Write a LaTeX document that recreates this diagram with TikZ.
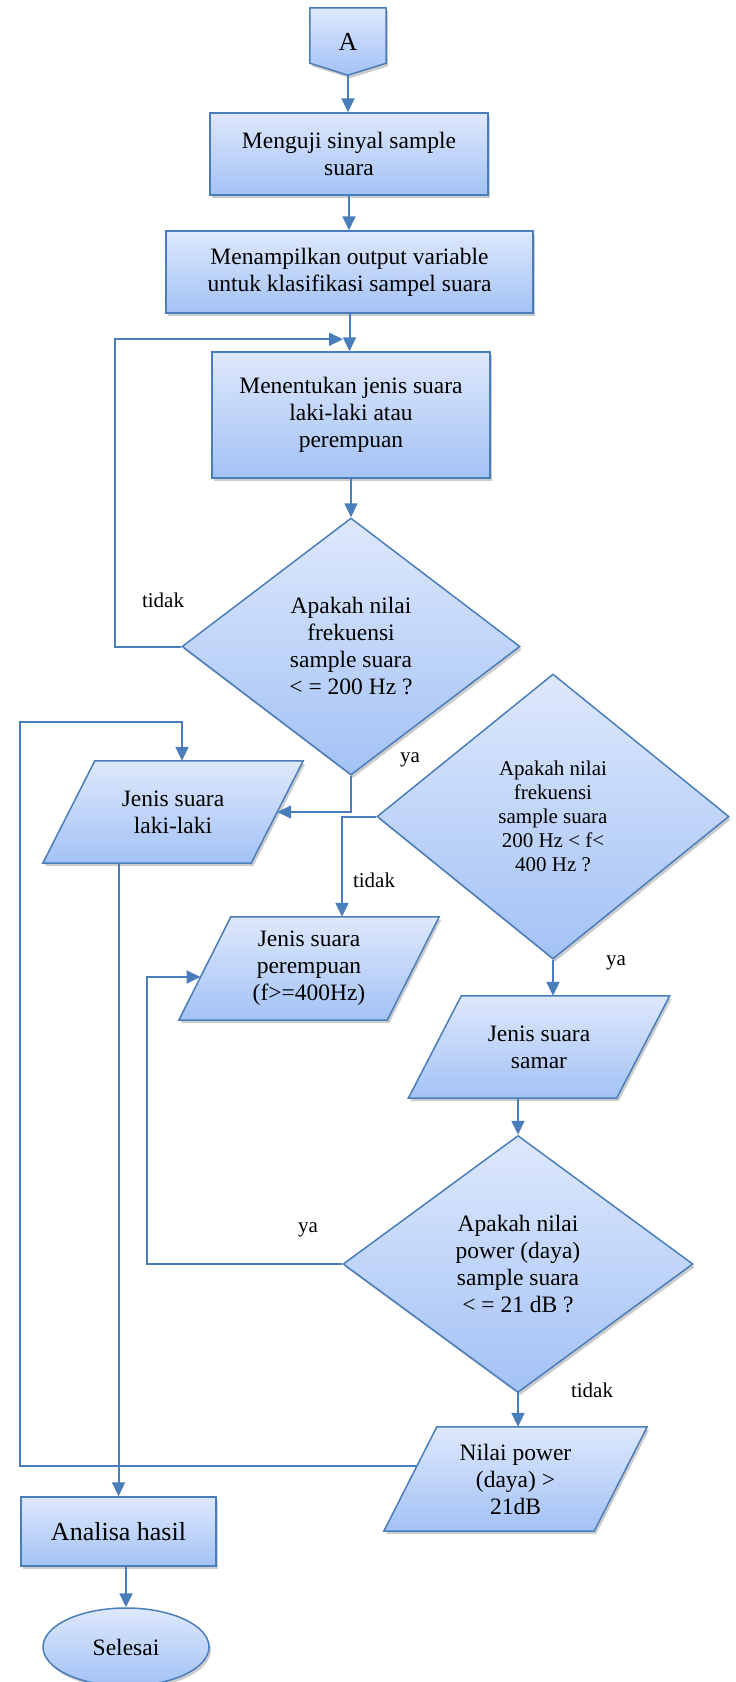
\documentclass[tikz,border=0pt]{standalone}
\usepackage{fontspec}
\setmainfont{Liberation Serif}
\usetikzlibrary{shapes.geometric,arrows.meta,shadows,backgrounds,calc}
\definecolor{bord}{RGB}{74,126,187}
\definecolor{topc}{RGB}{222,232,252}
\definecolor{botc}{RGB}{163,194,245}
\begin{document}
\begin{tikzpicture}[x=1pt,y=-1pt,
  txt/.style={font=\fontsize{23.5}{27}\selectfont, align=center, text=black},
  fillshape/.style={draw=bord, line width=1.5pt, top color=topc, bottom color=botc,
    drop shadow={shadow xshift=2pt, shadow yshift=-3pt, fill=black, opacity=0.2}},
  procbox/.style={fillshape, rectangle, txt, inner sep=0pt},
  decbox/.style={fillshape, diamond, txt, inner sep=0pt},
  iobox/.style={rectangle, txt, inner sep=0pt, minimum width=208pt},
  arr/.style={draw=bord, line width=2pt, -{Triangle[length=14pt,width=13pt]}},
  lbl/.style={font=\fontsize{21}{24}\selectfont, inner sep=0pt}
]
\useasboundingbox (0,0) rectangle (736,1682);

% nodes
\node[txt, font=\fontsize{26}{30}\selectfont, minimum width=76pt, minimum height=67pt, inner sep=0pt] (st) at (348,41.5) {A};
\node[procbox, minimum width=278pt, minimum height=82pt] (b1) at (349,154) {Menguji sinyal sample\\suara};
\node[procbox, minimum width=367pt, minimum height=82pt] (b2) at (349.5,272) {Menampilkan output variable\\untuk klasifikasi sampel suara};
\node[procbox, minimum width=278pt, minimum height=126pt] (b3) at (351,415) {Menentukan jenis suara\\laki-laki atau\\perempuan};
\node[decbox, minimum width=338pt, minimum height=257pt] (d1) at (351,646.5) {Apakah nilai\\frekuensi\\sample suara\\< = 200 Hz ?};
\node[iobox, minimum height=102pt] (p1) at (173,812) {Jenis suara\\laki-laki};
\node[decbox, minimum width=352pt, minimum height=285pt, font=\fontsize{21}{24}\selectfont] (d2) at (553,816.5) {Apakah nilai\\frekuensi\\sample suara\\200 Hz < f<\\400 Hz ?};
\node[iobox, minimum height=103pt] (p2) at (309,968.5) {Jenis suara\\perempuan\\(f>=400Hz)};
\node[iobox, minimum height=102pt] (sm) at (539,1047) {Jenis suara\\samar};
\node[decbox, minimum width=350pt, minimum height=257pt] (d3) at (518,1264) {Apakah nilai\\power (daya)\\sample suara\\< = 21 dB ?};
\node[iobox, minimum width=210pt, minimum height=104pt] (nl) at (515.5,1479) {Nilai power\\(daya) >\\21dB};
\node[procbox, minimum width=195pt, minimum height=69pt, font=\fontsize{26}{30}\selectfont] (an) at (118.5,1531.5) {Analisa hasil};
\node[fillshape, ellipse, txt, minimum width=166pt, minimum height=78pt, inner sep=0pt] (se) at (126,1647) {Selesai};

% shapes behind text nodes
\begin{scope}[on background layer]
\path[fillshape] (st.north west) -- (st.north east) -- ([yshift=12pt]st.south east) -- (st.south) -- ([yshift=12pt]st.south west) -- cycle;
\path[fillshape] ([xshift=26pt]p1.north west) -- ([xshift=26pt]p1.north east) -- ([xshift=-26pt]p1.south east) -- ([xshift=-26pt]p1.south west) -- cycle;
\path[fillshape] ([xshift=26pt]p2.north west) -- ([xshift=26pt]p2.north east) -- ([xshift=-26pt]p2.south east) -- ([xshift=-26pt]p2.south west) -- cycle;
\path[fillshape] ([xshift=26.5pt]sm.north west) -- ([xshift=26.5pt]sm.north east) -- ([xshift=-26.5pt]sm.south east) -- ([xshift=-26.5pt]sm.south west) -- cycle;
\path[fillshape] ([xshift=26.5pt]nl.north west) -- ([xshift=26.5pt]nl.north east) -- ([xshift=-26.5pt]nl.south east) -- ([xshift=-26.5pt]nl.south west) -- cycle;
\end{scope}

% connectors
\coordinate (fbT) at ($(b3.north)+(-8,-12)$);
\coordinate (p2in) at ($(p2.west)+(-4.3,8.5)$);
\coordinate (nlout) at ($(nl.west)+(6.6,-13)$);

\draw[arr] (st.south) -- (st.south |- b1.north);
\draw[arr] (b1.south) -- (b1.south |- b2.north);
\draw[arr] (b2.south) -- (b2.south |- b3.north);
\draw[arr] (b3.south) -- (b3.south |- d1.north);
\draw[arr] (d1.west) -- (115,646.5) |- (fbT);
\draw[arr] (d1.south) |- (p1.east);
\draw[arr] (d2.west) -| ([xshift=33pt]p2.north);
\draw[arr] (d2.south) -- (d2.south |- sm.north);
\draw[arr] (d3.north |- sm.south) -- (d3.north);
\draw[arr] (d3.west) -- (147,1264) |- (p2in);
\draw[arr] (d3.south) -- (d3.south |- nl.north);
\draw[arr] (nlout) -| (20,722) -| ([xshift=9pt]p1.north);
\draw[arr] (p1.south -| an.north) -- (an.north);
\draw[arr] (an.south -| se.north) -- (se.north);

% labels
\node[lbl] (l1) at (163,600) {tidak};
\node[lbl] (l2) at (410,760) {ya};
\node[lbl] (l3) at (374,880) {tidak};
\node[lbl] (l4) at (616,963) {ya};
\node[lbl] (l5) at (308,1230) {ya};
\node[lbl] (l6) at (592,1390) {tidak};
\end{tikzpicture}
\end{document}
